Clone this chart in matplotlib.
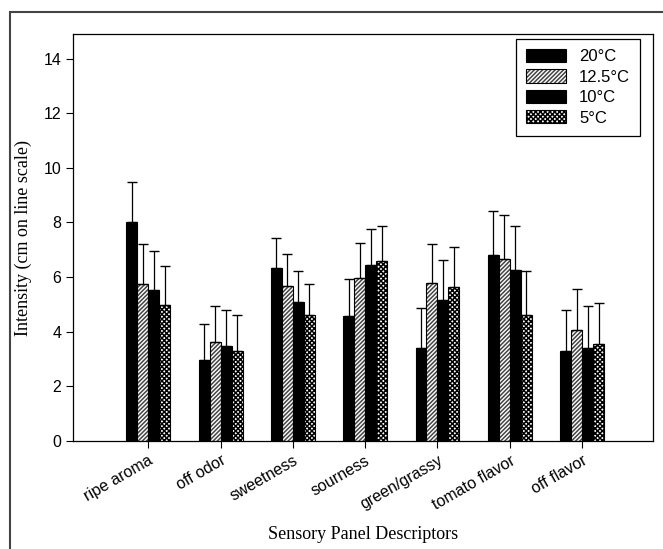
import numpy as np
import matplotlib.pyplot as plt
from matplotlib.patches import Rectangle

categories = ["ripe aroma", "off odor", "sweetness", "sourness",
              "green/grassy", "tomato flavor", "off flavor"]
temps = ["20°C", "12.5°C", "10°C", "5°C"]

# mean intensity per temperature, one list per series
t20 = [8.03, 2.95, 6.34, 4.58, 3.41, 6.81, 3.30]
t125 = [5.75, 3.62, 5.68, 5.97, 5.79, 6.67, 4.07]
t10 = [5.53, 3.48, 5.09, 6.45, 5.16, 6.26, 3.40]
t5 = [4.98, 3.30, 4.62, 6.59, 5.64, 4.62, 3.55]

# upper error (SD)
e20 = [1.45, 1.35, 1.11, 1.35, 1.46, 1.61, 1.50]
e125 = [1.45, 1.33, 1.17, 1.28, 1.43, 1.61, 1.50]
e10 = [1.43, 1.32, 1.14, 1.32, 1.47, 1.62, 1.54]
e5 = [1.43, 1.32, 1.13, 1.29, 1.47, 1.61, 1.51]

series = [t20, t125, t10, t5]
errs = [e20, e125, e10, e5]
styles = [
    dict(facecolor="black", hatch=None),
    dict(facecolor="white", hatch="////////"),
    dict(facecolor="black", hatch=None),
    dict(facecolor="white", hatch="xxxxxxx"),
]
hatch_colors = ["black", "#444444", "black", "black"]

plt.rcParams["hatch.linewidth"] = 1.1

fig = plt.figure(figsize=(6.63, 5.49), dpi=100)
fig.patches.append(Rectangle((10 / 663, -0.1), 1.2, (549 - 12) / 549 + 0.1,
                             transform=fig.transFigure, fill=False,
                             edgecolor="#444444", linewidth=1.5))
ax = fig.add_axes([73 / 663, 108 / 549, 580 / 663, 407 / 549])

x = np.arange(len(categories))
w = 0.152
for i, (vals, err) in enumerate(zip(series, errs)):
    pos = x + (i - 1.5) * w
    bars = ax.bar(pos, vals, width=w, label=temps[i], edgecolor="black",
                  linewidth=0.8, **styles[i])
    for b in bars:
        b._hatch_color = plt.matplotlib.colors.to_rgba(hatch_colors[i])
    ax.errorbar(pos, vals, yerr=[np.zeros(len(vals)), err], fmt="none",
                ecolor="black", elinewidth=0.9, capsize=3.3, capthick=1.0)

ax.set_xlim(-1.04, 6.98)
ax.set_ylim(0, 14.9)
ax.set_yticks(range(0, 15, 2))
ax.set_xticks(x)
ax.set_xticklabels(categories, rotation=30, ha="right",
                   rotation_mode="anchor", fontsize=11.5,
                   fontfamily="Liberation Sans")
for lab in ax.get_yticklabels():
    lab.set_fontfamily("Liberation Sans")
    lab.set_fontsize(11.5)
ax.tick_params(direction="out", length=5, width=0.8)
for s in ax.spines.values():
    s.set_linewidth(0.9)

ax.set_ylabel("Intensity (cm on line scale)", fontfamily="Liberation Serif",
              fontsize=13, labelpad=8)
ax.set_xlabel("Sensory Panel Descriptors", fontfamily="Liberation Serif",
              fontsize=13, labelpad=10)

leg = ax.legend(loc="upper right", bbox_to_anchor=(0.978, 0.988),
                borderaxespad=0,
                prop={"family": "Liberation Sans", "size": 12},
                fancybox=False, edgecolor="black", framealpha=1,
                handlelength=2.4, handleheight=0.85, labelspacing=0.3,
                handletextpad=0.8, borderpad=0.6)
leg.get_frame().set_linewidth(0.9)

fig.savefig("out.png", dpi=100)
